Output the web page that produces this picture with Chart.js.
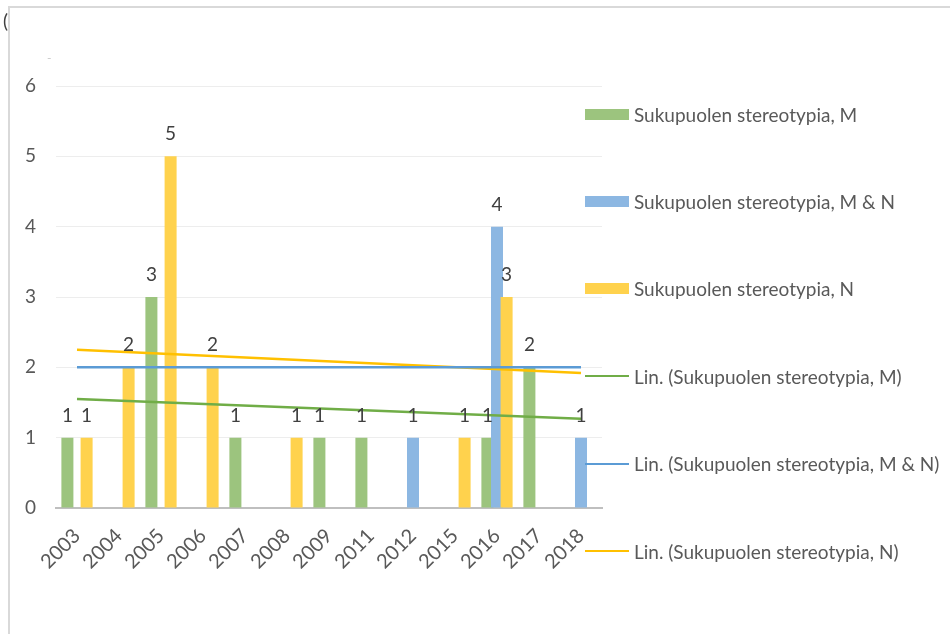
<!DOCTYPE html>
<html>
<head>
<meta charset="utf-8">
<script src="https://cdn.jsdelivr.net/npm/chart.js@4.4.1/dist/chart.umd.min.js"></script>
<style>
  body { margin: 0; background: #fff; }
  #wrap { position: relative; width: 950px; height: 634px; overflow: hidden; font-family: Lato, "Open Sans", sans-serif; }
  #frame { position: absolute; left: 8px; top: 6px; right: -4px; bottom: -4px; border-top: 2px solid #d9d9d9; border-left: 2px solid #d9d9d9; }
  .stray { position: absolute; }
  #legend .item { position: absolute; left: 585px; height: 24px; display: flex; align-items: center; white-space: nowrap; }
  #legend .swatch { width: 44px; margin-right: 5px; }
  #legend span { font-size: 19px; color: #595959; }
</style>
</head>
<body>
<div id="wrap">
  <canvas id="myChart" width="950" height="634"></canvas>
  <div id="frame"></div>
  <div class="stray" style="left:3px;top:9px;font-size:19px;color:#404040;">(</div>
  <div class="stray" style="left:47px;top:50px;font-size:12px;color:#c8c8c8;">-</div>
  <div id="legend"></div>
</div>
<script>
// vuodet (kategoriat)
const years = ['2003','2004','2005','2006','2007','2008','2009','2011','2012','2015','2016','2017','2018'];
// pylväiden arvot
const valuesM  = [1, null, 3, null, 1, null, 1, 1, null, null, 1, 2, null];
const valuesMN = [null, null, null, null, null, null, null, null, 1, null, 4, null, 1];
const valuesN  = [1, 2, 5, 2, null, 1, null, null, null, 1, 3, null, null];
// trendiviivat: alku- ja loppuarvo luettu kuvasta
const trendM  = [1.55, null, null, null, null, null, null, null, null, null, null, null, 1.27];
const trendMN = [2.0, null, null, null, null, null, null, null, null, null, null, null, 2.0];
const trendN  = [2.25, null, null, null, null, null, null, null, null, null, null, null, 1.92];
const yTicks = [0, 1, 2, 3, 4, 5, 6];

const labelFont = { family: 'Lato', size: 19 };

// piirretään pylväät järjestyksessä M, M & N, N (myöhempi päällä), viivat niiden päälle
const barOrder = {
  id: 'barOrder',
  beforeDatasetDraw(chart, args) {
    if (args.meta.type === 'bar') return false;
  },
  beforeDatasetsDraw(chart) {
    chart.getSortedVisibleDatasetMetas().forEach(meta => {
      if (meta.type === 'bar') meta.controller.draw();
    });
  }
};

// arvot pylväiden yläpuolelle
const valueLabels = {
  id: 'valueLabels',
  afterDatasetsDraw(chart) {
    const c = chart.ctx;
    c.save();
    c.font = '19px Lato';
    c.fillStyle = '#404040';
    c.textAlign = 'center';
    c.textBaseline = 'middle';
    chart.getSortedVisibleDatasetMetas().forEach(meta => {
      if (meta.type !== 'bar') return;
      const data = chart.data.datasets[meta.index].data;
      meta.data.forEach((bar, i) => {
        if (data[i] == null) return;
        c.fillText(data[i], bar.x, bar.y - 22);
      });
    });
    c.restore();
  }
};

function barSet(label, data, color) {
  return {
    type: 'bar', label: label, data: data,
    backgroundColor: color, borderWidth: 0,
    categoryPercentage: 0.686, barPercentage: 1.25
  };
}
function trendSet(label, data, color) {
  return {
    type: 'line', label: label, data: data,
    borderColor: color, backgroundColor: color, borderWidth: 2.5,
    pointRadius: 0, spanGaps: true, tension: 0
  };
}

const ctx = document.getElementById('myChart').getContext('2d');
const myChart = new Chart(ctx, {
  data: {
    labels: years,
    datasets: [
      barSet('Sukupuolen stereotypia, M', valuesM, '#9CC47E'),
      barSet('Sukupuolen stereotypia, M & N', valuesMN, '#8CB7E2'),
      barSet('Sukupuolen stereotypia, N', valuesN, '#FFD24D'),
      trendSet('Lin. (Sukupuolen stereotypia, M)', trendM, '#70AD47'),
      trendSet('Lin. (Sukupuolen stereotypia, M & N)', trendMN, '#5B9BD5'),
      trendSet('Lin. (Sukupuolen stereotypia, N)', trendN, '#FFC000')
    ]
  },
  options: {
    responsive: false,
    animation: false,
    layout: { padding: { left: 10, right: 348, top: 86, bottom: 60 } },
    plugins: { legend: { display: false }, tooltip: { enabled: false } },
    scales: {
      x: {
        grid: { display: false },
        border: { color: '#BFBFBF', width: 2 },
        ticks: { color: '#595959', font: { family: 'Lato', size: 20 }, minRotation: 45, maxRotation: 45, padding: 8, autoSkip: false },
        afterFit(s) { s.height = 66; }
      },
      y: {
        min: 0, max: 6,
        afterBuildTicks(s) { s.ticks = yTicks.map(v => ({ value: v })); },
        grid: { color: '#EDEDED', lineWidth: 1, drawTicks: false },
        border: { display: false },
        ticks: { color: '#595959', font: labelFont, padding: 20 },
        afterFit(s) { s.width = 46; }
      }
    }
  },
  plugins: [barOrder, valueLabels]
});

// oma selite oikealle
const legend = document.getElementById('legend');
myChart.data.datasets.forEach((ds, i) => {
  const item = document.createElement('div');
  item.className = 'item';
  item.style.top = (114 + i * 87.4 - 12) + 'px';
  const sw = document.createElement('div');
  sw.className = 'swatch';
  if (ds.type === 'bar') {
    sw.style.height = '11px';
    sw.style.background = ds.backgroundColor;
  } else {
    sw.style.height = '2px';
    sw.style.background = ds.borderColor;
  }
  const txt = document.createElement('span');
  txt.textContent = ds.label;
  item.appendChild(sw);
  item.appendChild(txt);
  legend.appendChild(item);
});
</script>
</body>
</html>
